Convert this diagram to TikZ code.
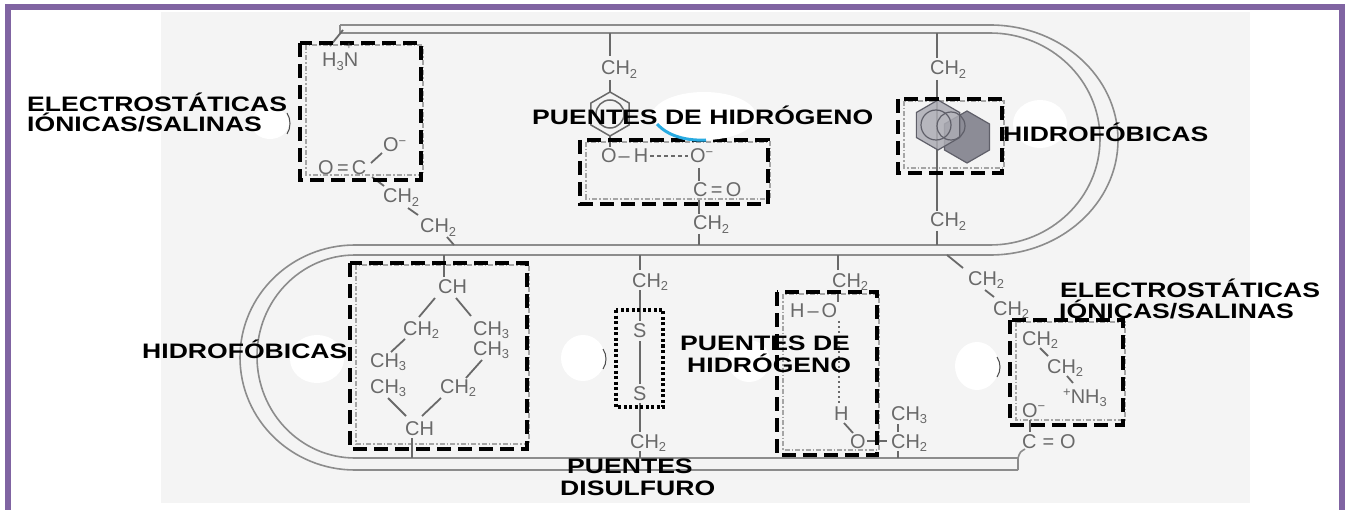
\documentclass[tikz,border=0pt]{standalone}
\usepackage{fontspec}
\setmainfont{Liberation Sans}
\newfontfamily\chemfont{Liberation Sans}
\newfontfamily\lblfont{Liberation Sans}[FakeStretch=1.27]
\definecolor{purp}{RGB}{128,100,162}
\definecolor{bgg}{RGB}{244,244,244}
\definecolor{ribg}{RGB}{140,140,140}
\definecolor{chemg}{RGB}{105,105,105}
\definecolor{boxg}{RGB}{165,165,165}
\definecolor{cyanarc}{RGB}{40,170,225}
\definecolor{ringA}{RGB}{172,172,180}
\definecolor{ringB}{RGB}{140,140,150}
\definecolor{ringD}{RGB}{95,95,105}
\newcommand{\chsub}[1]{\raisebox{-3.5pt}{\fontsize{13}{13}\selectfont #1}}
\newcommand{\chsup}[1]{\raisebox{7pt}{\fontsize{13}{13}\selectfont #1}}
\begin{document}
\begin{tikzpicture}[x=1bp,y=-1bp,
  frame/.style={draw=purp,line width=6bp},
  rib/.style={draw=ribg,line width=1.6bp},
  bond/.style={draw=chemg,line width=1.8bp},
  hbond/.style={draw=chemg,line width=1.8bp,dash pattern=on 4bp off 3bp},
  hdot/.style={draw=chemg,line width=2.2bp,dash pattern=on 2bp off 3bp},
  chem/.style={font={\chemfont\fontsize{20}{20}\selectfont},text=chemg,inner sep=0pt,anchor=base west},
  lbl/.style={font={\lblfont\bfseries\fontsize{21}{21}\selectfont},text=black,inner sep=0pt,anchor=base west},
  hibox/.style={draw=black,line width=4bp,dash pattern=on 14bp off 7bp},
  dotbox/.style={draw=black,line width=3.5bp,dash pattern=on 3bp off 2.5bp},
  gbox/.style={draw=boxg,line width=1.3bp,dash pattern=on 5bp off 2bp on 1.5bp off 2bp},
  blob/.style={fill=white,draw=none},
  ring/.style={draw=chemg,line width=1.5bp}]
\useasboundingbox (0,0) rectangle (1346,510);
\clip (0,0) rectangle (1346,510);
\fill[white] (0,0) rectangle (1346,510);
\fill[bgg] (161,12) rectangle (1250,503);

% backbone ribbon
\draw[rib] (340,25) -- (990,25) .. controls (1060.7,25) and (1118,76.5) .. (1118,140)
  .. controls (1118,203.5) and (1060.7,255) .. (990,255) -- (355,255)
  .. controls (300.9,255) and (257,300.4) .. (257,356.5)
  .. controls (257,412.6) and (300.9,458) .. (355,458) -- (1018,458);
\draw[rib] (340,33) -- (990,33) .. controls (1050.8,33) and (1100,80.5) .. (1100,139)
  .. controls (1100,197.5) and (1050.8,245) .. (990,245) -- (355,245)
  .. controls (291.5,245) and (240,295.4) .. (240,357.5)
  .. controls (240,419.6) and (291.5,470) .. (355,470) -- (1018,470);
\draw[rib] (340,25) -- (340,33);
\draw[rib] (1018,458) -- (1018,470);

% grey dotted boxes of the scan
\draw[gbox] (306,45) rectangle (423,175);
\draw[gbox] (586,142) rectangle (770,199);
\draw[gbox] (904,101) rectangle (1004,168);
\draw[gbox] (356,265) rectangle (529,444);
\draw[gbox] (783,294) rectangle (879,450);
\draw[gbox] (1016,322) rectangle (1125,420);

% ---- top-left: carboxylate / ammonium
\node[chem] (h3n) at (322,67) {H\chsub{3}N};
\node[chem] (om1) at (383,152) {O\chsup{−}};
\node[chem] (oc1) at (318,175) {O\,=\,C};
\node[chem] (cg1) at (383,203) {CH\chsub{2}};
\node[chem] (cg2) at (420,233) {CH\chsub{2}};
\draw[bond] (343,30) -- (330,46);
\draw[bond] (371,163) -- (382,153);
\draw[bond] (372,177) -- (384,186);
\draw[bond] (408,208) -- (418,215);
\draw[bond] (447,237) -- (454,245);

% ---- tyrosine / aspartate
\node[chem] (ct1) at (601,75) {CH\chsub{2}};
\draw[bond] (610,33) -- (610,56);
\draw[bond] (610,80) -- (610,92);
\draw[ring,shift={(610,114)}] (90:22) -- (30:22) -- (-30:22) -- (-90:22) -- (-150:22) -- (150:22) -- cycle;
\draw[ring] (610,114) circle[radius=14];
\draw[bond] (610,136) -- (610,147);
\node[chem] (oh) at (601,163) {O\hspace{2pt}–\hspace{4pt}H};
\node[chem] (om2) at (690,163) {O\chsup{−}};
\draw[hbond,shorten <=2bp,shorten >=2bp] (oh.east) -- (oh.east -| om2.west);
\node[chem] (co2) at (693,197) {C\,=\,O};
\node[chem] (cd1) at (693,230) {CH\chsub{2}};
\draw[bond] (699,168) -- (699,181);
\draw[bond] (699,200) -- (699,214);
\draw[bond] (699,234) -- (699,245);

% ---- phenylalanines
\node[chem] (cf1) at (930,75) {CH\chsub{2}};
\node[chem] (cf2) at (930,227) {CH\chsub{2}};
\draw[bond] (937,33) -- (937,58);
\draw[bond] (937,80) -- (937,211);
\draw[bond] (937,231) -- (937,245);
\filldraw[fill=ringB,draw=ringD,line width=1.2bp,shift={(967,137)}] (90:26) -- (30:26) -- (-30:26) -- (-90:26) -- (-150:26) -- (150:26) -- cycle;
\filldraw[fill=ringA,fill opacity=.85,draw=ringD,line width=1.2bp,shift={(938,125)}] (90:25) -- (30:25) -- (-30:25) -- (-90:25) -- (-150:25) -- (150:25) -- cycle;
\draw[draw=ringD,line width=1.2bp] (936,125) circle[radius=15];
\draw[draw=ringD,line width=1.2bp] (951,126) circle[radius=14];

% ---- leucines
\node[chem] (l1) at (438,293) {CH};
\node[chem] (l2) at (403,335) {CH\chsub{2}};
\node[chem] (l3) at (473,335) {CH\chsub{3}};
\node[chem] (l4) at (370,367) {CH\chsub{3}};
\node[chem] (l5) at (370,393) {CH\chsub{3}};
\node[chem] (l6) at (440,393) {CH\chsub{2}};
\node[chem] (l7) at (473,355) {CH\chsub{3}};
\node[chem] (l8) at (405,435) {CH};
\draw[bond] (444,255) -- (444,277);
\draw[bond] (435,298) -- (419,317);
\draw[bond] (456,298) -- (471,316);
\draw[bond] (405,339) -- (391,352);
\draw[bond] (388,398) -- (406,416);
\draw[bond] (441,398) -- (422,416);
\draw[bond] (466,378) -- (482,360);
\draw[bond] (412,438) -- (412,458);

% ---- cysteines
\node[chem] (cs1) at (632,287) {CH\chsub{2}};
\node[chem] (s1) at (633,337) {S};
\node[chem] (s2) at (633,400) {S};
\node[chem] (cs2) at (630,448) {CH\chsub{2}};
\draw[bond] (640,255) -- (640,270);
\draw[bond] (640,290) -- (640,321);
\draw[bond] (640,341) -- (640,384);
\draw[bond] (640,403) -- (640,432);
\draw[bond] (640,451) -- (640,458);

% ---- serine / threonine
\node[chem] (cser) at (832,287) {CH\chsub{2}};
\node[chem] (ho) at (790,317) {H\hspace{3pt}–\hspace{3pt}O};
\node[chem] (hh) at (834,420) {H};
\node[chem] (oo) at (850,448) {O};
\node[chem] (thr1) at (891,420) {CH\chsub{3}};
\node[chem] (thr2) at (891,448) {CH\chsub{2}};
\draw[bond] (838,255) -- (838,270);
\draw[bond] (838,290) -- (838,302);
\draw[hdot] (839,321) -- (839,404);
\draw[bond] (844,423) -- (853,433);
\draw[bond] (867,441) -- (887,441);
\draw[bond] (898,424) -- (898,432);
\draw[bond] (898,451) -- (898,458);

% ---- lysine / carboxylate
\node[chem] (k1) at (968,285) {CH\chsub{2}};
\node[chem] (k2) at (993,315) {CH\chsub{2}};
\node[chem] (k3) at (1022,345) {CH\chsub{2}};
\node[chem] (k4) at (1047,373) {CH\chsub{2}};
\node[chem] (nh3) at (1063,403) {\chsup{+}NH\chsub{3}};
\node[chem] (om3) at (1022,417) {O\chsup{−}};
\node[chem] (co3) at (1022,448) {C\hspace{6pt}=\hspace{6pt}O};
\draw[bond] (947,255) -- (963,268);
\draw[bond] (985,290) -- (994,297);
\draw[bond] (1040,348) -- (1048,356);
\draw[bond] (1067,376) -- (1073,383);
\draw[bond] (1030,420) -- (1030,432);
\draw[rib] (1018,458) .. controls (1020,452) .. (1025,449);

% ---- black dashed boxes
\draw[hibox] (300,43) rectangle (421,180);
\draw[hibox] (580,140) rectangle (768,204);
\draw[hibox] (898,99) rectangle (1002,173);
\draw[hibox] (350,263) rectangle (527,449);
\draw[dotbox] (616,310) rectangle (663,407);
\draw[hibox] (777,292) rectangle (877,455);
\draw[hibox] (1010,320) rectangle (1123,425);

% charge sign above the ammonium N
\node[chem,font={\chemfont\fontsize{10}{10}\selectfont}] (plus1) at (346,50) {+};

% ---- white blobs
\fill[blob] (270,123) ellipse[x radius=19,y radius=16];
\fill[blob] (704,116) ellipse[x radius=52,y radius=24];
\fill[blob] (1040,124) ellipse[x radius=27,y radius=24];
\fill[blob] (317,359) ellipse[x radius=27,y radius=24];
\fill[blob] (583,358) ellipse[x radius=22,y radius=23];
\fill[blob] (749,361) ellipse[x radius=21,y radius=21];
\fill[blob] (977,366) ellipse[x radius=22,y radius=24];
\draw[draw=cyanarc,line width=3bp] (657,124) .. controls (668,136) and (686,141) .. (706,140);
\draw[black!70,line width=1bp] (287,113) .. controls (291,119) and (291,128) .. (287,134);
\draw[black!70,line width=1bp] (603,349) .. controls (607,355) and (607,363) .. (603,369);
\draw[black!70,line width=1bp] (997,357) .. controls (1001,363) and (1001,371) .. (997,377);

% ---- labels
\node[lbl] (eA1) at (27,112) {ELECTROSTÁTICAS};
\node[lbl] (eA2) at (27,132) {IÓNICAS/SALINAS};
\node[lbl] (pH1) at (532,125) {PUENTES DE HIDRÓGENO};
\node[lbl] (hf1) at (1003,142) {HIDROFÓBICAS};
\node[lbl] (hf2) at (142,358) {HIDROFÓBICAS};
\node[lbl] (pH2a) at (680,350) {PUENTES DE};
\node[lbl] (pH2b) at (687,372) {HIDRÓGENO};
\node[lbl] (pd1) at (567,473) {PUENTES};
\node[lbl] (pd2) at (560,495) {DISULFURO};
\node[lbl] (eB1) at (1060,297) {ELECTROSTÁTICAS};
\node[lbl] (eB2) at (1059,318) {IÓNICAS/SALINAS};

% ---- frame
\draw[frame] (8,7.5) rectangle (1341.5,530);
\end{tikzpicture}
\end{document}
